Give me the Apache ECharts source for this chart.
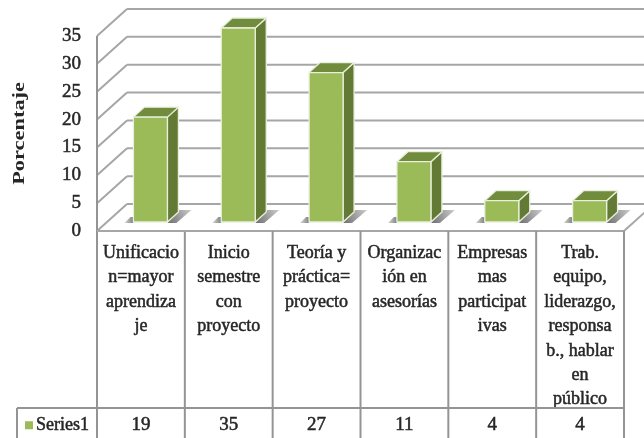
<!DOCTYPE html>
<html>
<head>
<meta charset="utf-8">
<style>
    html, body { margin: 0; padding: 0; background: #fff; }
    #chart { width: 644px; height: 438px; filter: blur(0.45px); }
</style>
</head>
<body>
<div id="chart"></div>
<script src="https://cdn.jsdelivr.net/npm/echarts@6/dist/echarts.min.js"></script>
<script>
const categories = [
    "Unificacio\nn=mayor\naprendiza\nje",
    "Inicio\nsemestre\ncon\nproyecto",
    "Teoría y\npráctica=\nproyecto",
    "Organizac\nión en\nasesorías",
    "Empresas\nmas\nparticipat\nivas",
    "Trab.\nequipo,\nliderazgo,\nresponsa\nb., hablar\nen\npúblico"
];
const seriesName = "Series1";
const seriesValues = [19, 35, 27, 11, 4, 4];
const yTicks = [0, 5, 10, 15, 20, 25, 30, 35];
const yTitle = "Porcentaje";

const fontName = "Liberation Serif";
const textColor = "#262626";
const wallColor = "#a6a6a6";
const tableColor = "#949494";

// profundidad de las paredes y de las barras (px)
const wallDx = 30, wallDy = 27;
const barDx = 11, barDy = 10;
const barShiftX = 9.5, barShiftY = 9, barWidth = 34;
const rowTop = 177, tableBottom = 207;

let chart = echarts.init(document.querySelector("#chart"));

function line(x1, y1, x2, y2, color, width) {
    return {
        type: "line",
        shape: { x1: x1, y1: y1, x2: x2, y2: y2 },
        style: { stroke: color, lineWidth: width }
    };
}

function poly(points, fill, stroke) {
    return {
        type: "polygon",
        shape: { points: points },
        style: { fill: fill, stroke: stroke || null, lineWidth: stroke ? 1.3 : 0, lineJoin: "round" }
    };
}

function renderWall(params, api) {
    const g = params.coordSys;
    const y = api.coord([0, api.value(0)])[1];
    return {
        type: "group",
        children: [
            line(g.x + wallDx, y - wallDy, g.x + g.width + wallDx, y - wallDy, wallColor, 2),
            line(g.x, y, g.x + wallDx, y - wallDy, wallColor, 2)
        ]
    };
}

function renderTable(params, api) {
    const g = params.coordSys;
    const i = api.value(0);
    const step = g.width / categories.length;
    const bottom = g.y + g.height;
    const right = g.x + step * (i + 1);
    const children = [
        line(right, bottom, right, bottom + tableBottom, tableColor, 2),
        {
            type: "text",
            style: {
                x: right - step / 2, y: bottom + rowTop + 17,
                text: String(api.value(1)),
                fill: textColor,
                stroke: textColor,
                lineWidth: 0.5,
                font: "19px '" + fontName + "'",
                textAlign: "center", textVerticalAlign: "middle"
            }
        }
    ];
    if (i === 0) {
        children.push(
            line(g.x, g.y, g.x, bottom + tableBottom, tableColor, 2),
            line(g.x, bottom, g.x + g.width, bottom, wallColor, 2),
            line(g.x - 80, bottom + rowTop, g.x + g.width, bottom + rowTop, tableColor, 2),
            line(g.x - 80, bottom + rowTop, g.x - 80, bottom + tableBottom, tableColor, 2),
            line(g.x + g.width, bottom, g.x + g.width + wallDx, bottom - wallDy, wallColor, 2)
        );
    }
    return { type: "group", children: children };
}

function renderBar(params, api) {
    const base = api.coord([api.value(0), 0]);
    const top = api.coord([api.value(0), api.value(1)]);
    const x0 = base[0] + barShiftX - barWidth / 2;
    const x1 = x0 + barWidth;
    const y0 = base[1] - barShiftY;
    const y1 = top[1] - barShiftY + 1;
    const edge = "#e9efdc";
    const shadow = new echarts.graphic.LinearGradient(0, 1, 1, 0, [
        { offset: 0, color: "#6e6e6e" },
        { offset: 1, color: "#cccccc" }
    ]);
    const shadowLeft = new echarts.graphic.LinearGradient(1, 0, 0, 0, [
        { offset: 0, color: "#808080" },
        { offset: 1, color: "#d8d8d8" }
    ]);
    return {
        type: "group",
        children: [
            poly([[x1, y0 + 1], [x1 + 12, y0 - 12], [x1 + 24, y0 - 12], [x1 + 9, y0 + 1]], shadow),
            poly([[x0 - 9, y0 + 1], [x0 - 3, y0 - 5], [x0, y0 - 5], [x0, y0 + 1]], shadowLeft),
            poly([[x1, y0], [x1 + barDx, y0 - barDy], [x1 + barDx, y1 - barDy], [x1, y1]], "#637a34", edge),
            poly([[x0, y1], [x1, y1], [x1 + barDx, y1 - barDy], [x0 + barDx, y1 - barDy]], "#718c3d", edge),
            poly([[x0, y0], [x1, y0], [x1, y1], [x0, y1]], "#9bbb59", edge)
        ]
    };
}

let option = {
    animation: false,
    backgroundColor: "#fff",
    textStyle: { fontFamily: fontName },
    grid: { left: 97, right: 20, top: 36, bottom: 207, outerBoundsMode: "none" },
    legend: {
        data: [{ name: seriesName, icon: "rect" }],
        left: 25,
        top: 416,
        itemWidth: 8,
        itemHeight: 8,
        itemGap: 4,
        padding: 0,
        textStyle: {
            color: textColor,
            fontSize: 18,
            fontFamily: fontName,
            textBorderColor: textColor,
            textBorderWidth: 0.5,
            padding: [0, 0, 0, -2]
        }
    },
    graphic: [
        {
            type: "text",
            left: 12,
            top: 82,
            rotation: Math.PI / 2,
            scaleX: 1.4,
            style: {
                text: yTitle,
                fill: textColor,
                font: "bold 16px '" + fontName + "'"
            }
        }
    ],
    xAxis: {
        type: "category",
        data: categories,
        axisLine: { show: false },
        axisTick: { show: false },
        axisLabel: {
            interval: 0,
            margin: 10,
            color: textColor,
            fontSize: 18,
            textBorderColor: textColor,
            textBorderWidth: 0.5,
            lineHeight: 24.4,
            verticalAlign: "top",
            overflow: "none"
        }
    },
    yAxis: {
        type: "value",
        min: 0,
        max: 35,
        interval: 5,
        axisLine: { show: false },
        axisTick: { show: false },
        splitLine: { show: false },
        axisLabel: {
            margin: 16,
            color: textColor,
            fontSize: 19,
            textBorderColor: textColor,
            textBorderWidth: 0.5,
            padding: [2, 0, 0, 0]
        }
    },
    series: [
        {
            name: "paredes",
            type: "custom",
            z: 1,
            silent: true,
            renderItem: renderWall,
            data: yTicks.map((t) => [t])
        },
        {
            name: "tabla",
            type: "custom",
            z: 2,
            silent: true,
            renderItem: renderTable,
            data: seriesValues.map((v, i) => [i, v])
        },
        {
            name: seriesName,
            type: "custom",
            z: 3,
            itemStyle: { color: "#9bbb59" },
            renderItem: renderBar,
            data: seriesValues.map((v, i) => [i, v])
        }
    ]
};

chart.setOption(option);
</script>
</body>
</html>
